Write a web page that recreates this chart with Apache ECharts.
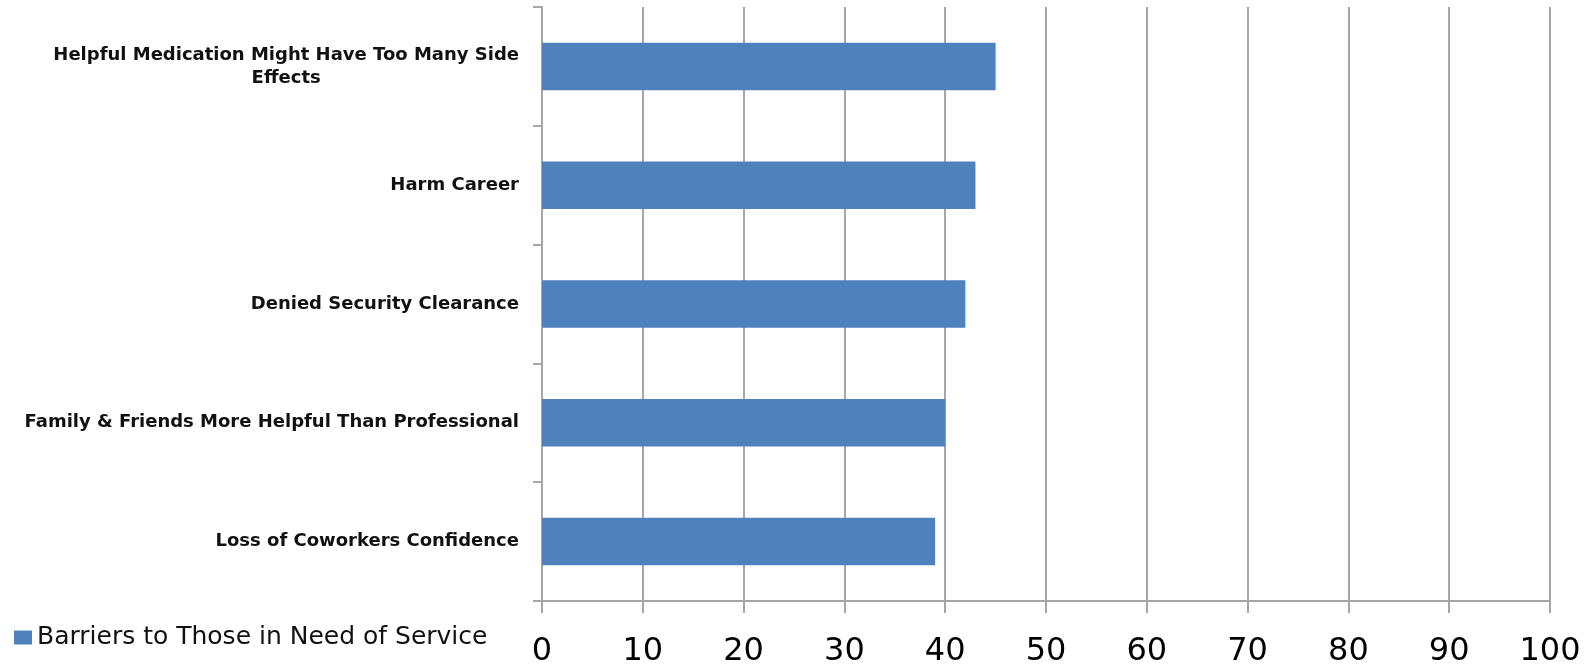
<!DOCTYPE html>
<html>
<head>
<meta charset="utf-8">
<script src="https://cdn.jsdelivr.net/npm/echarts@6/dist/echarts.min.js"></script>
<style>
  html, body { margin: 0; padding: 0; background: #fff; }
  #chart { width: 1596px; height: 668px; }
</style>
</head>
<body>
<div id="chart"></div>
<script>
// categories top to bottom
var categories = [
  'Helpful Medication Might Have Too Many Side\nEffects',
  'Harm Career',
  'Denied Security Clearance',
  'Family & Friends More Helpful Than Professional',
  'Loss of Coworkers Confidence'
];
var values = [45, 43, 42, 40, 39];
var seriesName = 'Barriers to Those in Need of Service';
var xTicks = [0, 100, 10]; // min, max, interval

var myChart = echarts.init(document.getElementById('chart'));

var gridGrey = '#a6a6a6';

var option = {
  animation: false,
  grid: {
    left: 542,
    right: 46,
    top: 7,
    bottom: 66
  },
  legend: {
    left: 9,
    top: 620,
    itemWidth: 18,
    itemHeight: 14,
    itemGap: 8,
    icon: 'rect',
    textStyle: {
      fontFamily: 'DejaVu Sans',
      fontSize: 25,
      color: '#111'
    },
    data: [seriesName]
  },
  xAxis: {
    type: 'value',
    min: xTicks[0],
    max: xTicks[1],
    interval: xTicks[2],
    axisLine: { show: true, lineStyle: { color: gridGrey, width: 2 } },
    axisTick: { show: true, length: 12, lineStyle: { color: gridGrey, width: 2 } },
    splitLine: { show: true, lineStyle: { color: gridGrey, width: 2 } },
    axisLabel: {
      margin: 35,
      fontFamily: 'DejaVu Sans',
      fontSize: 32,
      color: '#000'
    }
  },
  yAxis: {
    type: 'category',
    inverse: true,
    data: categories,
    axisLine: { show: true, lineStyle: { color: gridGrey, width: 2 } },
    axisTick: { show: true, length: 9, lineStyle: { color: gridGrey, width: 2 } },
    axisLabel: {
      margin: 23,
      formatter: function (v) {
        // centre each line inside the label block, like the original
        return v.split('\n').map(function (s) { return '{c|' + s + '}'; }).join('\n');
      },
      rich: {
        c: {
          align: 'center',
          fontFamily: 'DejaVu Sans',
          fontWeight: 'bold',
          fontSize: 18,
          lineHeight: 23,
          color: '#111'
        }
      }
    }
  },
  series: [{
    name: seriesName,
    type: 'bar',
    data: values,
    barWidth: '40%',
    itemStyle: { color: '#4f81bd' }
  }]
};
myChart.setOption(option);
</script>
</body>
</html>
